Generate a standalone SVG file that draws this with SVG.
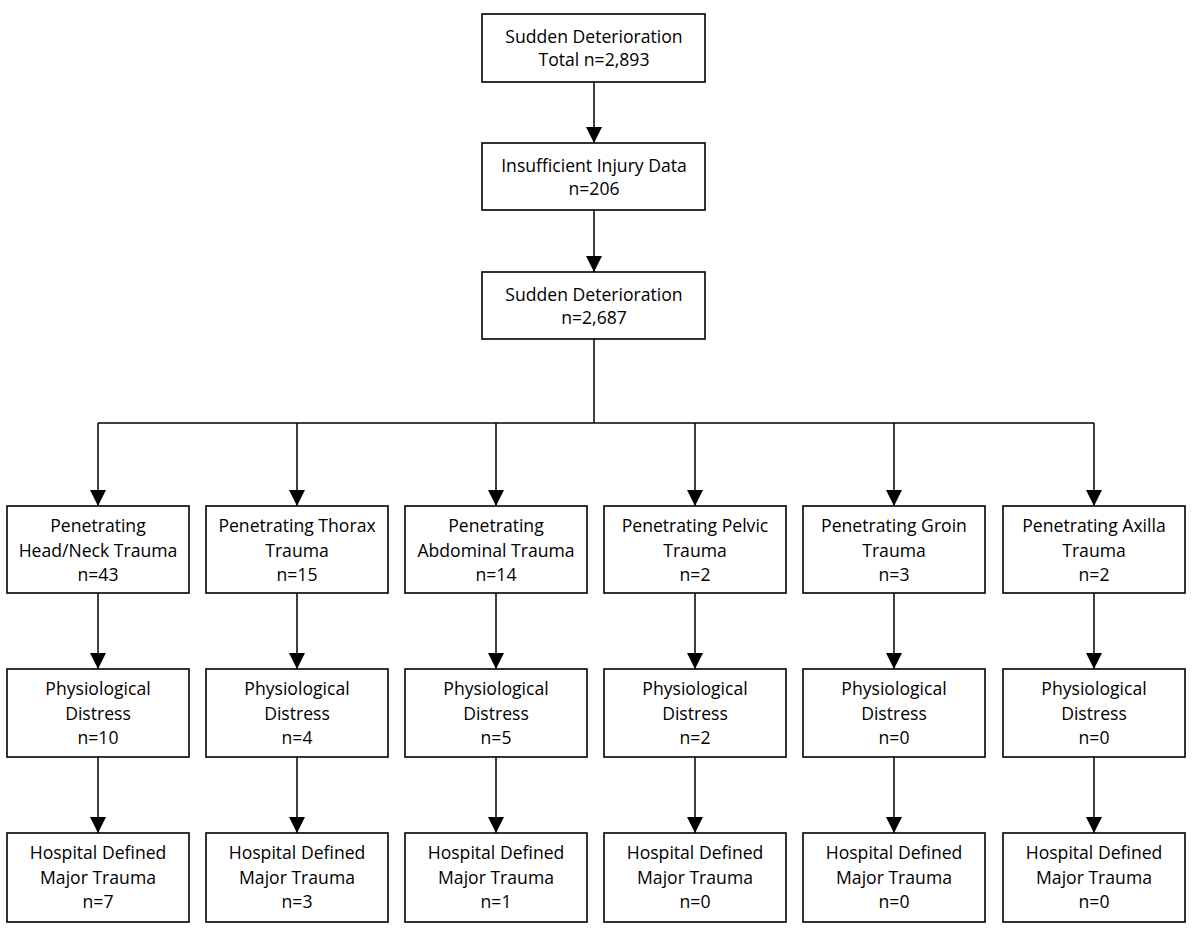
<svg xmlns="http://www.w3.org/2000/svg" width="1200" height="936" viewBox="0 0 1200 936">
<style>
.box{fill:#fff;stroke:#000;stroke-width:1.6}
.ln{fill:none;stroke:#000;stroke-width:1.5}
text{font-family:"Open Sans","Noto Sans",sans-serif;font-size:17.6px;fill:#000;text-anchor:middle}
</style>
<defs>
<marker id="ah" viewBox="0 0 16 16" refX="16" refY="8" markerWidth="16" markerHeight="16" markerUnits="userSpaceOnUse" orient="auto">
<path d="M0,0 L16,8 L0,16 Z" fill="#000"/>
</marker>
</defs>
<rect width="1200" height="936" fill="#fff"/>
<g id="connectors">
<line class="ln" x1="594" y1="82" x2="594" y2="143" marker-end="url(#ah)"/>
<line class="ln" x1="594" y1="210" x2="594" y2="272" marker-end="url(#ah)"/>
<path class="ln" d="M594,339 V423"/>
<path class="ln" d="M98,423 H1094"/>
<line class="ln" x1="98" y1="423" x2="98" y2="506" marker-end="url(#ah)"/>
<line class="ln" x1="297" y1="423" x2="297" y2="506" marker-end="url(#ah)"/>
<line class="ln" x1="496" y1="423" x2="496" y2="506" marker-end="url(#ah)"/>
<line class="ln" x1="695" y1="423" x2="695" y2="506" marker-end="url(#ah)"/>
<line class="ln" x1="894" y1="423" x2="894" y2="506" marker-end="url(#ah)"/>
<line class="ln" x1="1094" y1="423" x2="1094" y2="506" marker-end="url(#ah)"/>
<line class="ln" x1="98" y1="593" x2="98" y2="669" marker-end="url(#ah)"/>
<line class="ln" x1="297" y1="593" x2="297" y2="669" marker-end="url(#ah)"/>
<line class="ln" x1="496" y1="593" x2="496" y2="669" marker-end="url(#ah)"/>
<line class="ln" x1="695" y1="593" x2="695" y2="669" marker-end="url(#ah)"/>
<line class="ln" x1="894" y1="593" x2="894" y2="669" marker-end="url(#ah)"/>
<line class="ln" x1="1094" y1="593" x2="1094" y2="669" marker-end="url(#ah)"/>
<line class="ln" x1="98" y1="757" x2="98" y2="833" marker-end="url(#ah)"/>
<line class="ln" x1="297" y1="757" x2="297" y2="833" marker-end="url(#ah)"/>
<line class="ln" x1="496" y1="757" x2="496" y2="833" marker-end="url(#ah)"/>
<line class="ln" x1="695" y1="757" x2="695" y2="833" marker-end="url(#ah)"/>
<line class="ln" x1="894" y1="757" x2="894" y2="833" marker-end="url(#ah)"/>
<line class="ln" x1="1094" y1="757" x2="1094" y2="833" marker-end="url(#ah)"/>
</g>
<g id="n-total"><rect class="box" x="482" y="14" width="223" height="68"/><text x="594" y="43">Sudden Deterioration</text><text x="594" y="66">Total n=2,893</text></g>
<g id="n-insufficient"><rect class="box" x="482" y="143" width="223" height="67"/><text x="594" y="172">Insufficient Injury Data</text><text x="594" y="195">n=206</text></g>
<g id="n-sudden"><rect class="box" x="482" y="272" width="223" height="67"/><text x="594" y="301">Sudden Deterioration</text><text x="594" y="324">n=2,687</text></g>

<g id="n-headneck"><rect class="box" x="7" y="506" width="182" height="87"/><text x="98" y="532">Penetrating</text><text x="98" y="557">Head/Neck Trauma</text><text x="98" y="581">n=43</text></g>
<g id="n-thorax"><rect class="box" x="206" y="506" width="182" height="87"/><text x="297" y="532">Penetrating Thorax</text><text x="297" y="557">Trauma</text><text x="297" y="581">n=15</text></g>
<g id="n-abdominal"><rect class="box" x="405" y="506" width="182" height="87"/><text x="496" y="532">Penetrating</text><text x="496" y="557">Abdominal Trauma</text><text x="496" y="581">n=14</text></g>
<g id="n-pelvic"><rect class="box" x="604" y="506" width="182" height="87"/><text x="695" y="532">Penetrating Pelvic</text><text x="695" y="557">Trauma</text><text x="695" y="581">n=2</text></g>
<g id="n-groin"><rect class="box" x="803" y="506" width="182" height="87"/><text x="894" y="532">Penetrating Groin</text><text x="894" y="557">Trauma</text><text x="894" y="581">n=3</text></g>
<g id="n-axilla"><rect class="box" x="1003" y="506" width="182" height="87"/><text x="1094" y="532">Penetrating Axilla</text><text x="1094" y="557">Trauma</text><text x="1094" y="581">n=2</text></g>

<g id="n-pd1"><rect class="box" x="7" y="669" width="182" height="88"/><text x="98" y="695">Physiological</text><text x="98" y="720">Distress</text><text x="98" y="744">n=10</text></g>
<g id="n-pd2"><rect class="box" x="206" y="669" width="182" height="88"/><text x="297" y="695">Physiological</text><text x="297" y="720">Distress</text><text x="297" y="744">n=4</text></g>
<g id="n-pd3"><rect class="box" x="405" y="669" width="182" height="88"/><text x="496" y="695">Physiological</text><text x="496" y="720">Distress</text><text x="496" y="744">n=5</text></g>
<g id="n-pd4"><rect class="box" x="604" y="669" width="182" height="88"/><text x="695" y="695">Physiological</text><text x="695" y="720">Distress</text><text x="695" y="744">n=2</text></g>
<g id="n-pd5"><rect class="box" x="803" y="669" width="182" height="88"/><text x="894" y="695">Physiological</text><text x="894" y="720">Distress</text><text x="894" y="744">n=0</text></g>
<g id="n-pd6"><rect class="box" x="1003" y="669" width="182" height="88"/><text x="1094" y="695">Physiological</text><text x="1094" y="720">Distress</text><text x="1094" y="744">n=0</text></g>

<g id="n-mt1"><rect class="box" x="7" y="833" width="182" height="89"/><text x="98" y="859">Hospital Defined</text><text x="98" y="884">Major Trauma</text><text x="98" y="908">n=7</text></g>
<g id="n-mt2"><rect class="box" x="206" y="833" width="182" height="89"/><text x="297" y="859">Hospital Defined</text><text x="297" y="884">Major Trauma</text><text x="297" y="908">n=3</text></g>
<g id="n-mt3"><rect class="box" x="405" y="833" width="182" height="89"/><text x="496" y="859">Hospital Defined</text><text x="496" y="884">Major Trauma</text><text x="496" y="908">n=1</text></g>
<g id="n-mt4"><rect class="box" x="604" y="833" width="182" height="89"/><text x="695" y="859">Hospital Defined</text><text x="695" y="884">Major Trauma</text><text x="695" y="908">n=0</text></g>
<g id="n-mt5"><rect class="box" x="803" y="833" width="182" height="89"/><text x="894" y="859">Hospital Defined</text><text x="894" y="884">Major Trauma</text><text x="894" y="908">n=0</text></g>
<g id="n-mt6"><rect class="box" x="1003" y="833" width="182" height="89"/><text x="1094" y="859">Hospital Defined</text><text x="1094" y="884">Major Trauma</text><text x="1094" y="908">n=0</text></g>
</svg>
